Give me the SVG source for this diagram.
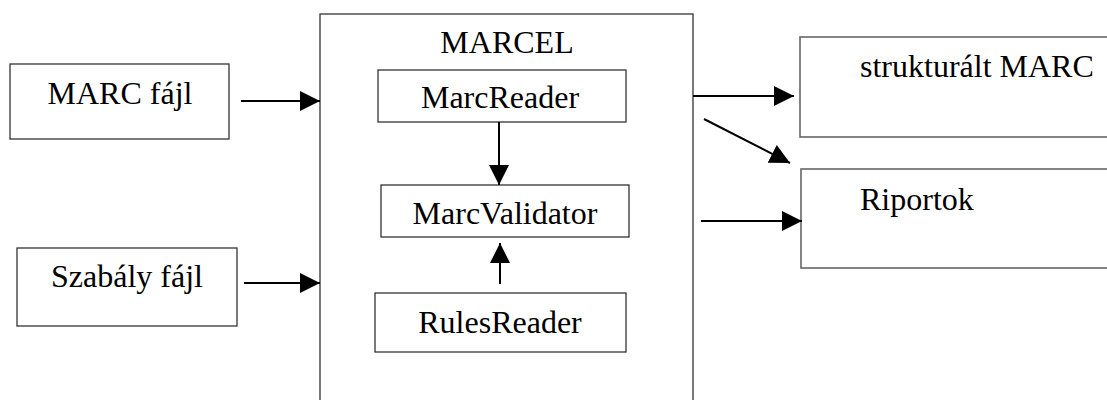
<svg xmlns="http://www.w3.org/2000/svg" width="1107" height="400" viewBox="0 0 1107 400">
<style>
.box{fill:#fff;stroke:#333;stroke-width:1.3}
.obox{fill:#fff;stroke:#666;stroke-width:1.6}
.t{font-family:'Liberation Serif','DejaVu Serif',serif;font-size:32px;fill:#000}
.c{stroke:#000;stroke-width:2;fill:none}
</style>
<defs>
<marker id="ah" viewBox="0 0 20 20" refX="20" refY="10" markerWidth="20" markerHeight="20" markerUnits="userSpaceOnUse" orient="auto">
<path d="M0,0 L20,10 L0,20 Z" fill="#000"/>
</marker>
</defs>
<rect width="1107" height="400" fill="#fff"/>
<g id="marc-fajl"><rect class="box" x="10" y="64" width="219" height="75"/><text class="t" x="120" y="104" text-anchor="middle">MARC fájl</text></g>
<g id="szabaly-fajl"><rect class="box" x="17" y="248" width="220" height="78"/><text class="t" x="127" y="287" text-anchor="middle">Szabály fájl</text></g>
<g id="marcel"><rect class="box" x="320" y="14" width="373" height="400"/><text class="t" x="507" y="53" text-anchor="middle">MARCEL</text></g>
<g id="marcreader"><rect class="box" x="378" y="70" width="248" height="52"/><text class="t" x="500" y="108" text-anchor="middle">MarcReader</text></g>
<g id="marcvalidator"><rect class="box" x="381" y="185" width="248" height="52"/><text class="t" x="505" y="224" text-anchor="middle">MarcValidator</text></g>
<g id="rulesreader"><rect class="box" x="375" y="293" width="251" height="59"/><text class="t" x="500" y="333" text-anchor="middle">RulesReader</text></g>
<g id="strukturalt"><rect class="obox" x="800" y="37" width="320" height="100"/><text class="t" x="860" y="77">strukturált MARC</text></g>
<g id="riportok"><rect class="obox" x="801" y="169" width="320" height="99"/><text class="t" x="860" y="210">Riportok</text></g>
<g id="connectors">
<line class="c" x1="241" y1="101" x2="320" y2="101" marker-end="url(#ah)"/>
<line class="c" x1="244" y1="283" x2="320" y2="283" marker-end="url(#ah)"/>
<line class="c" x1="499" y1="122" x2="499" y2="185" marker-end="url(#ah)"/>
<line class="c" x1="500" y1="284" x2="500" y2="243" marker-end="url(#ah)"/>
<line class="c" x1="693" y1="96" x2="794" y2="96" marker-end="url(#ah)"/>
<line class="c" x1="704" y1="119" x2="790" y2="163" marker-end="url(#ah)"/>
<line class="c" x1="701" y1="221" x2="802" y2="221" marker-end="url(#ah)"/>
</g>
</svg>
